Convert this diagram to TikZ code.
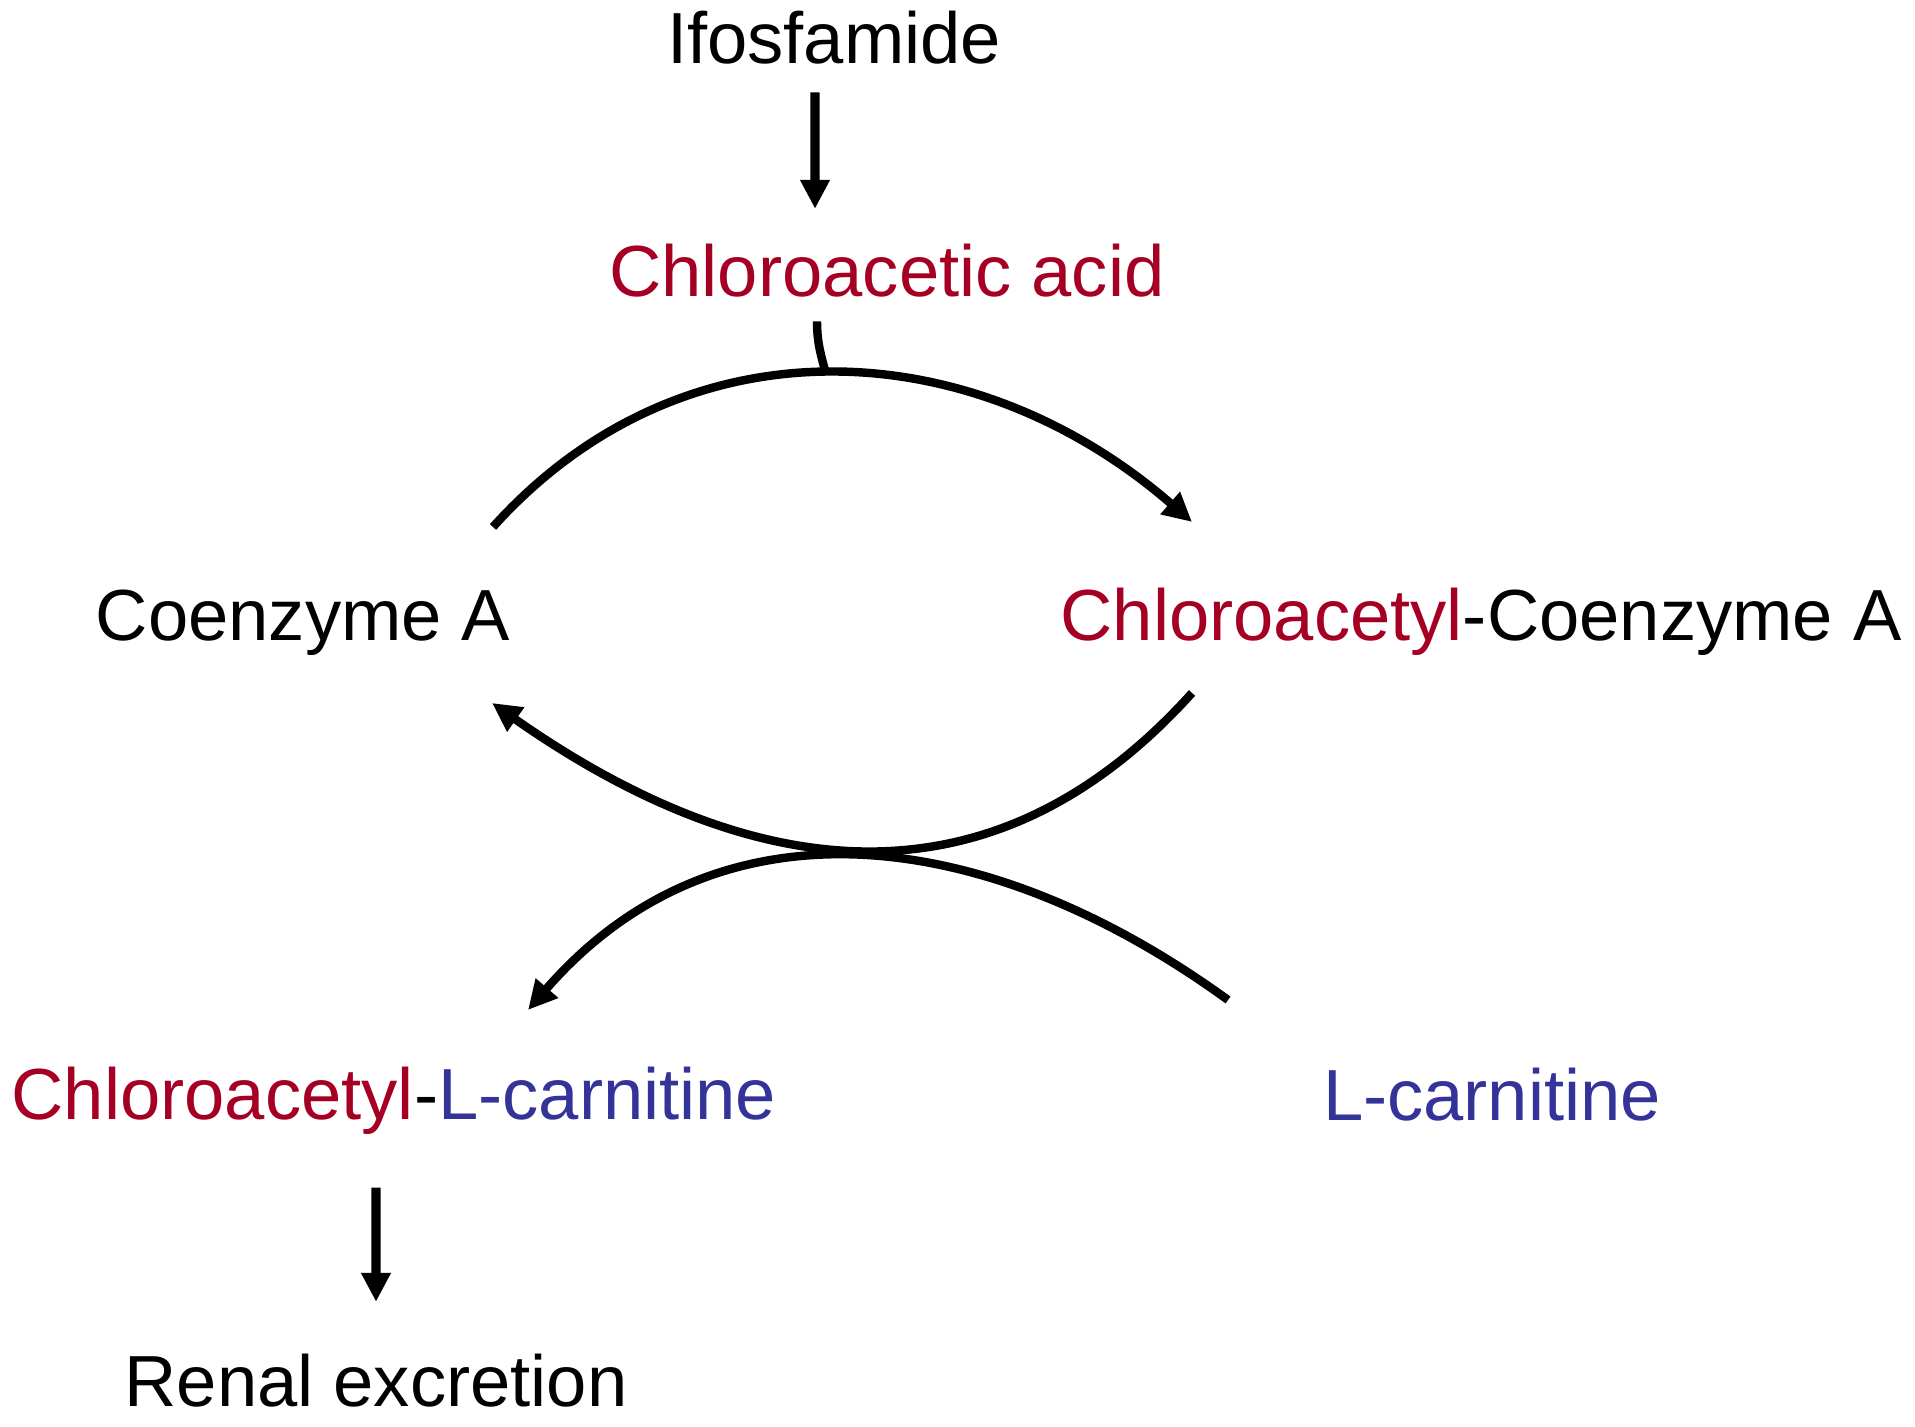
\documentclass[tikz,border=0pt]{standalone}
\usepackage{fontspec}
\setmainfont{Liberation Sans}
\usetikzlibrary{arrows.meta}
\definecolor{chlred}{RGB}{165,0,36}
\definecolor{carnblue}{RGB}{51,51,153}

\begin{document}
\begin{tikzpicture}
        [every node/.style={inner sep=0, anchor=base, font=\fontsize{20.6}{25}\selectfont},
         arr/.style={line width=2.6pt, -{Triangle[length=2.9mm,width=2.8mm]}},
         curvy/.style={line width=2.4pt}]

        \useasboundingbox (0,0) rectangle (19.15,14.27);

        \node (ifos) at (8.34, 13.63) {Ifosfamide};
        \node[text=chlred] (caa) at (8.87, 11.30) {Chloroacetic acid};
        \node (coa) at (3.03, 7.86) {Coenzyme A};
        \node (cacoa) at (14.81, 7.86) {\textcolor{chlred}{Chloroacetyl}-Coenzyme A};
        \node (cacarn) at (3.94, 3.07) {\textcolor{chlred}{Chloroacetyl}-\textcolor{carnblue}{L-carnitine}};
        \node[text=carnblue] (carn) at (14.92, 3.06) {L-carnitine};
        \node (renal) at (3.76, 0.20) {Renal excretion};

        \coordinate (topl) at (4.93, 9.00);
        \coordinate (topr) at (11.92, 9.05);
        \coordinate (midr) at (11.92, 7.34);
        \coordinate (midl) at (4.92, 7.24);
        \coordinate (lowr) at (12.28, 4.27);
        \coordinate (lowl) at (5.28, 4.17);

        \draw[arr] ([xshift=-1.9mm,yshift=-2.7mm]ifos.south) -- ([xshift=-7.2mm,yshift=3.5mm]caa.north);
        \draw[curvy, -{Triangle[length=2.9mm,width=2.8mm]}] (topl) to[out=48, in=139, looseness=1.05] coordinate[pos=0.49] (join) (topr);
        \draw[curvy] ([xshift=-7.0mm,yshift=-2.3mm]caa.south) to[out=-90, in=105] (join);
        \draw[curvy, -{Triangle[length=2.9mm,width=2.8mm]}] (midr) to[out=228, in=-35, looseness=1.12] (midl);
        \draw[curvy, -{Triangle[length=2.9mm,width=2.8mm]}] (lowr) to[out=144, in=49, looseness=1.07] (lowl);
        \draw[arr] ([xshift=-1.8mm,yshift=-5.2mm]cacarn.south) -- ([yshift=5.2mm]renal.north);
      \end{tikzpicture}
\end{document}
